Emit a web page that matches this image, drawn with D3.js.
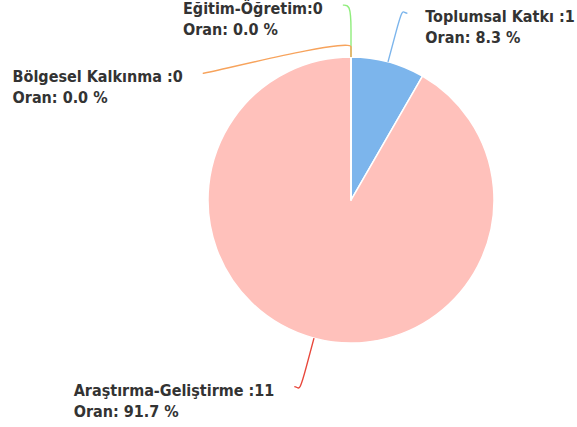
<!DOCTYPE html>
<html>
<head>
<meta charset="utf-8">
<script src="https://cdn.jsdelivr.net/npm/d3@7"></script>
<style>
    html, body { margin: 0; padding: 0; background: #fff; }
    svg text { font-family: "DejaVu Sans Condensed", "DejaVu Sans", sans-serif; font-weight: bold; font-size: 16px; fill: #333; }
</style>
</head>
<body>
<svg id="chart"></svg>
<script>
    // veriler
    var categories = ["Toplumsal Katkı", "Araştırma-Geliştirme", "Eğitim-Öğretim", "Bölgesel Kalkınma"];
    var values = [1, 11, 0, 0];
    var labelSep = [" :", " :", ":", " :"];
    var sliceColors = ["#7cb5ec", "#ffc1bb", "#90ed7d", "#f7a35c"];
    var lineColors = ["#7cb5ec", "#e8473b", "#90ed7d", "#f7a35c"];

    var cfg = {
        width: 577,
        height: 427,
        cx: 351,
        cy: 200,
        radius: 143,
        labelRadius: 195,
        // etiket yerleşimi (çakışmayı önlemek için açı kaydırma, derece)
        labelShift: [1.8, 1.9, -2.4, -49.5],
        breakDist: [30, 30, 27, 10]
    };

    var svg = d3.select("#chart").attr("width", cfg.width).attr("height", cfg.height);
    var g = svg.append("g").attr("transform", "translate(" + cfg.cx + "," + cfg.cy + ")");

    var total = d3.sum(values);
    var pie = d3.pie().sort(null).value(function (d) { return d; });
    var arcs = pie(values);
    var arc = d3.arc().innerRadius(0).outerRadius(cfg.radius);

    // dilimler
    g.selectAll("path.slice")
        .data(arcs)
        .enter()
        .append("path")
        .attr("class", "slice")
        .attr("d", arc)
        .attr("fill", function (d, i) { return sliceColors[i]; })
        .attr("stroke", "#fff")
        .attr("stroke-width", 1.5)
        .attr("stroke-linejoin", "round");

    var polar = function (a, r) {
        return [Math.sin(a) * r, -Math.cos(a) * r];
    };

    var labels = arcs.map(function (d, i) {
        var mid = (d.startAngle + d.endAngle) / 2;
        var la = mid + cfg.labelShift[i] * Math.PI / 180;
        var anchor = polar(la, cfg.labelRadius);
        return {
            i: i,
            touch: polar(mid, cfg.radius),
            brk: polar(mid, cfg.radius + cfg.breakDist[i]),
            anchor: anchor,
            left: anchor[0] > 0
        };
    });

    // bağlantı çizgileri
    g.selectAll("path.connector")
        .data(labels)
        .enter()
        .append("path")
        .attr("class", "connector")
        .attr("fill", "none")
        .attr("stroke", function (d) { return lineColors[d.i]; })
        .attr("stroke-width", 1.4)
        .attr("d", function (d) {
            var L = d.anchor, B = d.brk, T = d.touch;
            return "M" + L[0] + "," + L[1] +
                "C" + (L[0] + (d.left ? -5 : 5)) + "," + L[1] + " " +
                (2 * B[0] - T[0]) + "," + (2 * B[1] - T[1]) + " " +
                B[0] + "," + B[1] +
                "L" + T[0] + "," + T[1];
        });

    // etiketler
    labels.forEach(function (d) {
        var t = g.append("text");
        t.append("tspan").attr("y", d.anchor[1] + 9)
            .text(categories[d.i] + labelSep[d.i] + values[d.i]);
        t.append("tspan").attr("y", d.anchor[1] + 30)
            .text("Oran: " + (values[d.i] / total * 100).toFixed(1) + " %");
        var w = d3.max(t.selectAll("tspan").nodes(), function (n) { return n.getComputedTextLength(); });
        var x = d.left ? d.anchor[0] + 18 : d.anchor[0] - 20 - w;
        t.selectAll("tspan").attr("x", x);
    });
</script>
</body>
</html>
